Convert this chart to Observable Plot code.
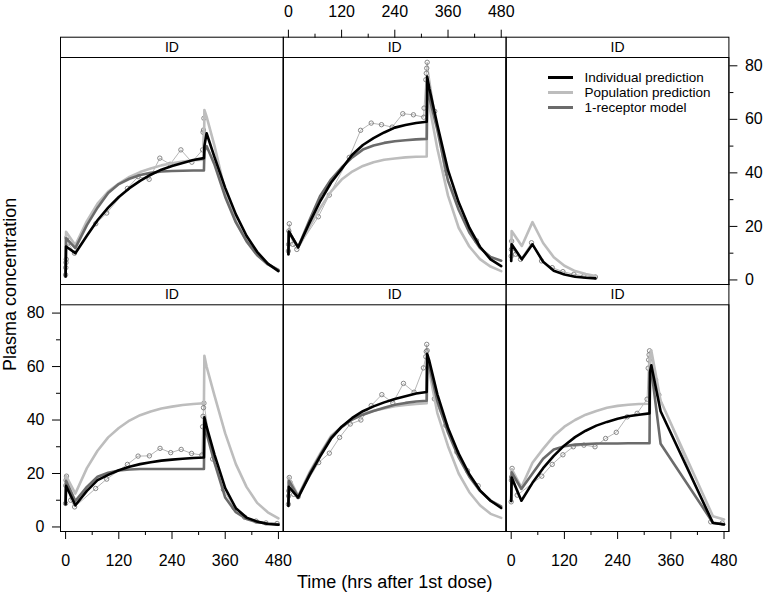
<!DOCTYPE html>
<html>
<head>
<meta charset="utf-8">
<script src="https://cdn.jsdelivr.net/npm/d3@7"></script>
<script src="https://cdn.jsdelivr.net/npm/@observablehq/plot@0.6"></script>
<style>
  body { margin: 0; background: #fff; }
  #chart { position: relative; width: 765px; height: 599px; }
</style>
</head>
<body>
<div id="chart"></div>
<script>
// time grid of the model curves (hrs)
const gridT = [0, 1, 22, 48, 72, 96, 120, 144, 168, 192, 216, 240, 264, 288, 312, 313, 318, 336, 360, 384, 408, 432, 456, 480]
const p3T = [0, 1, 24, 48, 72, 96, 120, 144, 168, 190]
const p6T = [0, 1, 23, 48, 72, 96, 120, 144, 168, 192, 216, 240, 264, 288, 312, 313, 316, 337, 455, 480]

// panel 1 (top left)
const p1Indiv = [1.3, 12.5, 10, 16.5, 22.3, 27, 31, 34.3, 37, 39.3, 41.2, 42.6, 43.7, 44.8, 45.5, 50, 54.8, 45.8, 34.4, 24.5, 16.5, 10.5, 6.1, 3.3]
const p1Pop = [1.3, 18, 13, 22, 28.5, 33, 36, 38.5, 40.3, 41.6, 42.8, 43.6, 44.2, 44.7, 44.9, 63.5, 61, 50, 33, 22, 14.5, 9.2, 5.8, 3.6]
const p1Rec = [1.3, 15.6, 11.9, 20.5, 27, 32.5, 35.8, 37.8, 39.2, 40, 40.5, 40.7, 40.8, 40.9, 40.9, 48, 50, 43, 31, 21.5, 14.5, 9.3, 5.9, 3.8]
const p1ObsT = [0, 0.5, 1, 1.5, 3, 6, 20, 68, 92.7, 139.4, 163.5, 188.4, 212.5, 235.8, 260, 284.8, 309, 310, 311, 312]
const p1ObsV = [1.9, 4.6, 6.5, 7.7, 15.9, 13.8, 10, 21, 25, 34.2, 38.6, 37.6, 45.5, 43.2, 48.6, 44, 48.6, 55.2, 56, 60.4]

// panel 2 (top middle)
const p2Indiv = [9.6, 18.1, 12.2, 21.5, 29.5, 36.3, 41.5, 46.8, 50.4, 53, 55.1, 56.9, 57.9, 58.6, 59.1, 76, 71.5, 57.9, 41, 29, 19.5, 12.4, 7.7, 5.2]
const p2Pop = [9.6, 18, 12, 20, 27, 33, 37.5, 40.5, 42.6, 44, 44.9, 45.4, 45.8, 46, 46.1, 70, 65, 49, 31.5, 19.5, 12.5, 7.8, 5, 3.3]
const p2Rec = [9.6, 18, 12.2, 22.5, 31.5, 37.5, 42, 45.8, 48.7, 50.2, 51.2, 51.8, 52.2, 52.5, 52.7, 71.5, 68, 56, 37, 26.2, 17.7, 11.9, 8.6, 7.2]
const p2ObsT = [0, 0.5, 1, 2, 10, 19, 67.5, 92.3, 137.3, 162.8, 186.8, 210, 234, 258, 282, 305.3, 306, 310, 311, 312, 313, 330, 352.5, 424.4]
const p2ObsV = [10.8, 13.3, 18.3, 21, 13.3, 11.4, 23.6, 31.7, 45.8, 55.9, 58.6, 58, 57.1, 62.1, 61.7, 60.8, 64.2, 74.8, 77.2, 79.1, 81.3, 63, 40, 14.6]

// panel 3 (top right)
const p3Indiv = [7.1, 13.3, 7.7, 13.3, 6.8, 3.4, 2, 1.2, 0.8, 0.6]
const p3Pop = [7.1, 18.3, 12.7, 21.6, 13.8, 8.5, 5.3, 3.3, 2.2, 1.5]
const p3ObsT = [0, 0.5, 1, 10, 21, 45.8, 68.4, 92.5, 116.6, 141.4, 164, 190]
const p3ObsV = [8.9, 11.4, 14.5, 9.6, 7.7, 13.9, 7.1, 4.6, 3.1, 2.1, 1.5, 1.1]

// panel 4 (bottom left)
const p4Indiv = [8.5, 15.4, 8.1, 13.5, 17.5, 19.5, 21.2, 22.5, 23.5, 24.2, 24.8, 25.2, 25.5, 25.8, 26, 41, 37.5, 27, 14.5, 7, 3.5, 2, 1.1, 0.8]
const p4Pop = [8.5, 19.1, 12.5, 22, 28.5, 33.5, 37, 39.8, 41.8, 43.2, 44.3, 45, 45.6, 46, 46.3, 64, 60, 49, 35, 23.5, 15, 9, 5.5, 3.2]
const p4Rec = [8.5, 17.3, 9.7, 15, 18.8, 20.3, 21.1, 21.5, 21.7, 21.7, 21.7, 21.7, 21.7, 21.7, 21.7, 37.3, 35, 24, 11, 5.5, 3, 1.8, 1.3, 1]
const p4ObsT = [0, 0.5, 1, 2, 11.3, 20.3, 67.8, 92.7, 139.4, 163.5, 189, 213, 237, 260.7, 284, 307.4, 309, 310, 311, 312, 331.6, 356, 380, 404, 429.5, 452, 477]
const p4ObsV = [8.8, 15.5, 17.5, 19, 10, 7.5, 14.4, 17.9, 23.4, 26.5, 26.6, 29.4, 27.8, 29, 27.5, 26.9, 37.5, 41.4, 44.6, 46.3, 25.4, 14, 7.2, 3.6, 2.2, 1.5, 1.3]

// panel 5 (bottom middle)
const p5Indiv = [7.9, 15, 11, 19.5, 26.5, 33, 37.5, 40.8, 43.3, 45.1, 46.6, 47.9, 48.9, 49.9, 50.5, 64.7, 62, 49.6, 37, 27.4, 19.7, 13.7, 9.8, 7.1]
const p5Pop = [7.9, 18.5, 11.6, 20.5, 27.5, 34, 37.5, 40.3, 42.2, 43.5, 44.3, 45.2, 45.6, 46, 46.3, 62.2, 58, 42.6, 30.2, 20, 13, 8.1, 4.9, 3.4]
const p5Rec = [7.9, 17.3, 11.3, 20, 27, 33.5, 37.3, 40.2, 42, 43.4, 44.6, 45.7, 46.4, 46.9, 47.2, 62.9, 60, 47, 35.3, 26, 18.8, 13.5, 9.8, 7.7]
const p5ObsT = [0, 0.5, 1, 2, 4, 12, 22, 68.3, 92.3, 115.5, 139.5, 163.5, 186.8, 210.7, 235.5, 259.5, 283.5, 304.5, 310, 311, 312, 313, 329.2, 355, 380, 404, 428]
const p5ObsV = [8.5, 11.6, 13.5, 18.5, 16.6, 12.2, 11.3, 24.1, 27.6, 33.5, 38.5, 40, 45.4, 49.5, 46.4, 53.7, 50.4, 59.5, 63.7, 65.6, 68.3, 66, 47.9, 38, 28, 21, 15.4]

// panel 6 (bottom right)
const p6Indiv = [9.75, 18.5, 9.8, 16.5, 22, 26.6, 30.5, 33.6, 36, 37.9, 39.3, 40.5, 41.4, 42, 42.5, 58, 60.5, 43.3, 1.5, 0.9]
const p6Pop = [9.75, 21.6, 14.8, 24, 29.2, 34, 37.5, 40, 42, 43.4, 44.6, 45.3, 45.7, 46, 46.1, 64, 66, 47.2, 4, 2.8]
const p6Rec = [9.75, 20.4, 14.2, 20, 25.5, 29, 30.2, 30.8, 31, 31.2, 31.2, 31.2, 31.3, 31.3, 31.3, 58, 59, 31.1, 1.6, 1]
const p6ObsT = [0, 0.5, 1, 2, 13.5, 69, 92.5, 116.6, 140, 164, 189, 212.9, 237, 261.8, 284, 306.5, 309, 310, 311, 312, 325.7, 333, 450, 476]
const p6ObsV = [9.4, 17.5, 18.7, 21.9, 11.9, 19, 23.4, 27, 30, 30.6, 30, 33.1, 35.4, 41.2, 42.5, 47.8, 59.4, 62.5, 64.4, 65.9, 55, 49.4, 1.9, 1.5]

const legendLabels = ['Individual prediction', 'Population prediction', '1-receptor model']
const xTicks = [0, 120, 240, 360, 480]
const xMinor = [60, 180, 300, 420]
const yTicks = [0, 20, 40, 60, 80]
const yMinor = [10, 30, 50, 70]

// layout
const W = 765, H = 599
const colX = [60, 282.8, 505.6, 728.4]
const rowY = [[57, 284], [304.3, 531]]
const stripH = 20.3
const xDomain = [-11.5, 491]
const yDomain = [-1.7, 83.1]
const colors = {indiv: '#000000', pop: '#bdbdbd', rec: '#6b6b6b'}
const svgStyle = 'position:absolute;left:0;top:0;background:transparent;overflow:visible;max-width:none;font-family:"Liberation Sans",Arial,sans-serif;font-size:16px;color:#000'

const rows = (ts, vs) => ts.map((t, i) => ({t, v: vs[i]}))

function overlay(box, marks, scales = {}) {
  return Plot.plot({
    width: W, height: H,
    marginLeft: box[0], marginRight: W - box[1], marginTop: box[2], marginBottom: H - box[3],
    x: {domain: xDomain, axis: scales.xAxis ? undefined : null},
    y: {domain: yDomain, axis: scales.yAxis ? undefined : null},
    style: svgStyle,
    marks
  })
}

const panels = [
  {col: 0, row: 0, t: gridT, indiv: p1Indiv, pop: p1Pop, rec: p1Rec, obsT: p1ObsT, obsV: p1ObsV},
  {col: 1, row: 0, t: gridT, indiv: p2Indiv, pop: p2Pop, rec: p2Rec, obsT: p2ObsT, obsV: p2ObsV},
  {col: 2, row: 0, t: p3T, indiv: p3Indiv, pop: p3Pop, rec: null, obsT: p3ObsT, obsV: p3ObsV, right: true},
  {col: 0, row: 1, t: gridT, indiv: p4Indiv, pop: p4Pop, rec: p4Rec, obsT: p4ObsT, obsV: p4ObsV, left: true, bottom: true},
  {col: 1, row: 1, t: gridT, indiv: p5Indiv, pop: p5Pop, rec: p5Rec, obsT: p5ObsT, obsV: p5ObsV},
  {col: 2, row: 1, t: p6T, indiv: p6Indiv, pop: p6Pop, rec: p6Rec, obsT: p6ObsT, obsV: p6ObsV, bottom: true}
]

const chart = d3.select('#chart')

panels.forEach(p => {
  const box = [colX[p.col], colX[p.col + 1], rowY[p.row][0], rowY[p.row][1]]
  const obs = rows(p.obsT, p.obsV)
  const marks = [
    Plot.frame({stroke: '#000', insetTop: -stripH}),
    Plot.text(['ID'], {text: d => d, frameAnchor: 'top', dy: -stripH / 2, lineAnchor: 'middle', fontSize: 14, fill: '#000'}),
    Plot.line(obs, {x: 't', y: 'v', stroke: '#a3a3a3', strokeWidth: 0.8}),
    Plot.dot(obs, {x: 't', y: 'v', r: 2.2, stroke: '#7c7c7c', strokeWidth: 0.9, fill: 'none'}),
    Plot.line(rows(p.t, p.pop), {x: 't', y: 'v', stroke: colors.pop, strokeWidth: 2.6})
  ]
  if (p.rec) marks.push(Plot.line(rows(p.t, p.rec), {x: 't', y: 'v', stroke: colors.rec, strokeWidth: 2.6}))
  marks.push(Plot.line(rows(p.t, p.indiv), {x: 't', y: 'v', stroke: colors.indiv, strokeWidth: 2.6}))
  marks.push(Plot.frame({stroke: '#000'}))
  if (p.bottom) {
    marks.push(Plot.axisX(xTicks, {anchor: 'bottom', tickSize: 8, tickPadding: 15, fontSize: 16, label: null}))
    marks.push(Plot.axisX(xMinor, {anchor: 'bottom', tickSize: 4, tickFormat: () => '', label: null}))
  }
  if (p.left) {
    marks.push(Plot.axisY(yTicks, {anchor: 'left', tickSize: 8, tickPadding: 8, fontSize: 16, label: null}))
    marks.push(Plot.axisY(yMinor, {anchor: 'left', tickSize: 4, tickFormat: () => '', label: null}))
  }
  if (p.right) {
    marks.push(Plot.axisY(yTicks, {anchor: 'right', tickSize: 8, tickPadding: 8, fontSize: 16, label: null}))
    marks.push(Plot.axisY(yMinor, {anchor: 'right', tickSize: 4, tickFormat: () => '', label: null}))
  }
  chart.append(() => overlay(box, marks, {xAxis: p.bottom, yAxis: p.left || p.right}))
})

// top axis of the middle column sits above the strip
chart.append(() => overlay([colX[1], colX[2], rowY[0][0] - stripH, rowY[0][1]], [
  Plot.axisX(xTicks, {anchor: 'top', tickSize: 8, tickPadding: 12, fontSize: 16, label: null}),
  Plot.axisX(xMinor, {anchor: 'top', tickSize: 4, tickFormat: () => '', label: null})
], {xAxis: true}))

// axis titles
chart.append(() => overlay([colX[0], colX[3], rowY[0][0] - stripH, rowY[1][1]], [
  Plot.text(['Time (hrs after 1st dose)'], {text: d => d, frameAnchor: 'bottom', dy: 56, fontSize: 18, textAnchor: 'middle'}),
  Plot.text(['Plasma concentration'], {text: d => d, frameAnchor: 'left', dx: -50, rotate: -90, fontSize: 18, textAnchor: 'middle'})
]))

// legend inside the top-right panel
const legendColors = [colors.indiv, colors.pop, colors.rec]
chart.append(() => Plot.plot({
  width: W, height: H,
  x: {domain: [0, 1], range: [548, 573], axis: null},
  y: {type: 'point', domain: legendLabels, range: [76.7, 106.7], padding: 0, axis: null},
  style: svgStyle,
  marks: [
    ...legendLabels.map((lab, i) => Plot.ruleY([lab], {y: d => d, x1: 0, x2: 1, stroke: legendColors[i], strokeWidth: 3})),
    Plot.text(legendLabels, {text: d => d, x: 1, y: d => d, dx: 11, textAnchor: 'start', fontSize: 13.5})
  ]
}))
</script>
</body>
</html>
